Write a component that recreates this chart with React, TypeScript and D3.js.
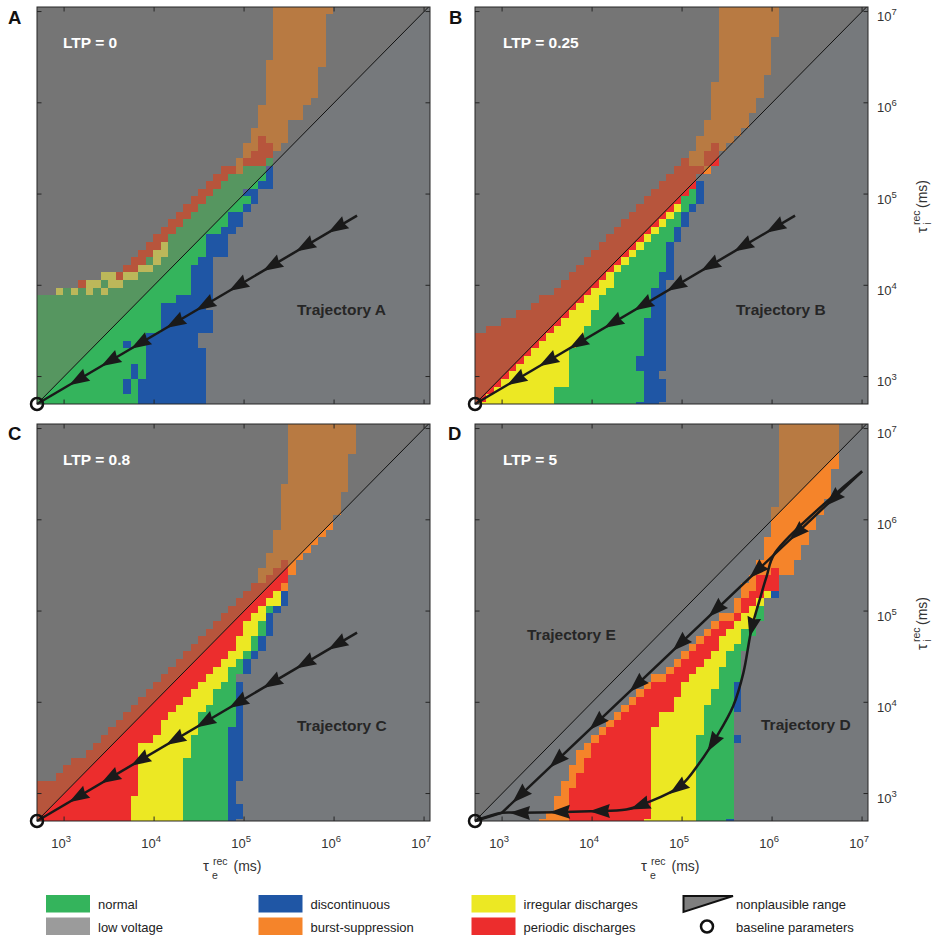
import React, { useEffect, useRef } from "react";
import * as d3 from "d3";

const WIDTH = 934;
const HEIGHT = 937;
const FONT = "'Liberation Sans', Arial, Helvetica, sans-serif";

// Parameter grid for the recovery time constants (ms): 12 samples per decade
const BASELINE_MS = 500;
const SAMPLES_PER_DECADE = 12;
const TAU_I_OFFSET = -0.2; // tau_i grid sits slightly below the tau_e grid (in steps)
const AXIS_MIN = 500;
const X_AXIS_MAX = 10 ** 7.066;
const Y_AXIS_MAX = 10 ** 7.05;
const TICK_EXPONENTS = [3, 4, 5, 6, 7];

// Dynamical regimes (plausible range)
const STATE_COLORS: Record<string, string> = {
  N: "#34b45c", // normal
  L: "#76797c", // low voltage
  D: "#1f56a5", // discontinuous
  B: "#f5842a", // burst-suppression
  Y: "#ece823", // irregular discharges
  P: "#ec2d2d", // periodic discharges
};
// Same regimes shaded inside the nonplausible range (tau_i > tau_e)
const SHADED_COLORS: Record<string, string> = {
  N: "#569660",
  L: "#757575",
  D: "#5a5f96",
  B: "#b87a42",
  Y: "#bcb75a",
  P: "#b7553c",
};
const LEGEND_LOW_VOLTAGE = "#9b9b9b";

const LEGEND_ITEMS = [
  { state: "N", label: "normal" },
  { state: "L", label: "low voltage" },
  { state: "D", label: "discontinuous" },
  { state: "B", label: "burst-suppression" },
  { state: "Y", label: "irregular discharges" },
  { state: "P", label: "periodic discharges" },
];

// Regime maps: one run-length string per tau_i row (bottom row first),
// runs along tau_e from the left; anything after the last run is low voltage.
const ROWS_LTP_0 = [
  "N14 D9", "N14 D9", "N12 D1 N1 D9", "N12 D1 N1 D9", "N13 D1 N1 D8",
  "N13 D1 N1 D8", "N15 D8", "N15 D8", "N12 D1 N2 D7", "N15 D7",
  "N17 D7", "N17 D7", "N17 D7", "N17 D6", "N19 D5",
  "L3 Y1 N1 Y1 N1 Y1 N1 Y1 N11 D3", "L6 P1 Y2 N1 Y2 N9 D3", "L9 Y2 P1 Y2 N7 D3",
  "L12 P2 Y2 N5 D3", "L13 P2 N1 Y1 N5 D2", "L14 P2 Y2 N5 D3",
  "L15 P2 Y1 N5 D3", "L16 P2 N5 D3", "L17 P2 N6 D2", "L18 P2 N6 D2",
  "L19 P2 N5 D2", "L20 P2 N6 D1", "L21 P2 N6 D1", "L22 P2 N4 D2",
  "L23 P2 N5 D2", "L24 P2 N5 D1", "L25 P2 B1 N3 D1", "L27 B1 P3 N1",
  "L28 B1 P3", "L28 B2 P2 B1", "L29 B1 P1 B3", "L29 B5", "L30 B4",
  "L30 B6", "L30 B6", "L31 B6", "L31 B7", "L31 B7", "L31 B7", "L31 B7",
  "L31 B8", "L32 B7", "L32 B7", "L32 B7", "L32 B7", "L32 B7", "L32 B7",
  "L32 B8",
];

const ROWS_LTP_025 = [
  "P1 Y10 N11 D3", "P2 Y9 N12 D3", "P3 Y8 N12 D3", "P4 Y9 N10 D3",
  "P5 Y8 N10 D2", "P6 Y7 N9 D4", "P7 Y6 N9 D4", "P8 Y5 N10 D3",
  "P9 Y5 N9 D3", "P10 Y5 N8 D3", "L2 P9 Y4 N8 D3", "L4 P8 Y4 N7 D3",
  "L6 P7 Y3 N8 D2", "L8 P6 Y3 N7 D2", "L9 P6 Y2 N7 D2", "L11 P5 Y2 N6 D2",
  "L12 P5 Y2 N6 D1", "L13 P5 Y1 N6 D2", "L14 P5 Y1 N6 D1", "L15 P5 Y1 N5 D1",
  "L16 P5 Y1 N4 D1", "L17 P5 Y1 N3 D1", "L18 P5 Y1 N3 D1", "L19 P5 Y1 N2 D1",
  "L20 P5 Y1 N2 D1", "L21 P5 Y1 N1 D1", "L22 P5 Y1 N1 D1", "L23 P5 N2 D1",
  "L24 P5 N1 D1", "L25 P5 D1", "L26 P4", "L27 P4 B1", "L28 P1 B2 P2",
  "L29 B2 P2", "L30 B2 P1 B1", "L30 B5", "L31 B5", "L31 B6", "L32 B5",
  "L32 B6", "L32 B6", "L32 B7", "L32 B7", "L33 B6", "L33 B7", "L33 B7",
  "L33 B7", "L33 B7", "L33 B7", "L33 B8", "L33 B8", "L33 B8", "L33 B8",
];

const ROWS_LTP_08 = [
  "P13 Y7 N6 D1", "P13 Y7 N6 D2", "P13 Y7 N6 D2", "P13 Y7 N6 D1",
  "P14 Y6 N6 D1", "P14 Y6 N6 D1", "L3 P11 Y6 N6 D2", "L4 P10 Y6 N6 D2",
  "L5 P9 Y6 N6 D2", "L7 P7 Y7 N5 D2", "L8 P6 Y7 N5 D2", "L9 P7 Y5 N5 D2",
  "L10 P7 Y5 N4 D2", "L11 P6 Y5 N5 D1", "L12 P6 Y4 N5 D1", "L13 P6 Y4 N4 D1",
  "L14 P6 Y4 N3 D1", "L15 P6 Y3 N3 D1", "L16 P6 Y3 N2 D1", "L17 P6 Y3 N1",
  "L18 P6 Y2 N2 D1", "L19 P6 Y2 N1 D1", "L20 P6 Y2 N1 D1", "L21 P6 Y2 N1 D1",
  "L22 P5 Y2 N1 D1", "L23 P5 Y2 N1 D1", "L24 P4 Y2 N1 D1", "L25 P4 Y2 D1",
  "L26 P4 Y1 N1 D1", "L27 P4 Y2 D1", "L28 P4 Y1 D1", "L29 P4 B1",
  "L30 B1 P3", "L30 B2 P2 B1", "L31 B2 P1 B1", "L31 B5", "L32 B5", "L32 B6",
  "L32 B7", "L33 B7", "L33 B7", "L33 B8", "L33 B8", "L33 B8", "L33 B9",
  "L34 B8", "L34 B8", "L34 B8", "L34 B8", "L34 B9", "L34 B9", "L34 B9", "L34 B9",
];

const ROWS_LTP_5 = [
  "L9 B4 P10 Y7 N4 D1", "L10 B3 P11 Y6 N5", "L11 B2 P11 Y6 N5", "L11 B2 P11 Y6 N5",
  "L12 B1 P11 Y6 N5", "L12 B2 P10 Y6 N5", "L13 B1 P10 Y6 N5", "L13 B2 P9 Y6 N5",
  "L14 B1 P9 Y6 N5", "L14 B2 P8 Y6 N5", "L15 B1 P8 Y6 N5", "L16 B1 P7 Y6 N5 D1",
  "L17 B1 P6 Y7 N4", "L18 B1 P6 Y6 N4", "L19 B1 P5 Y6 N4", "L20 B1 P6 Y4 N4 D1",
  "L21 B1 P5 Y5 N3 D1", "L22 B1 P5 Y4 N3 D1", "L23 B1 P4 Y5 N2 D1", "L24 B2 P3 Y4 N3",
  "L26 B1 P3 Y3 N3", "L27 B1 P3 Y3 N2", "L28 B1 P3 Y2 N2", "L29 B1 P3 Y2 N2",
  "L30 B1 P2 Y3 N1", "L31 B1 P2 Y2 N2", "L32 B1 P2 Y2 N1", "L33 B2 P1 Y2 N1",
  "L35 B1 P1 Y1 N1", "L35 B1 P2 Y1", "L36 B1 P2 Y1 D1", "L36 B2 P3", "L37 B1 P3",
  "L38 B2 P1 B2", "L38 B5", "L39 B5", "L39 B5", "L39 B6", "L40 B5", "L40 B6",
  "L40 B6", "L40 B7", "L41 B6", "L41 B7", "L41 B7", "L41 B7", "L41 B7",
  "L41 B8", "L41 B8", "L41 B8", "L41 B8", "L41 B8", "L41 B8",
];

// Trajectories in (tau_e, tau_i) ms, listed from their far end to the baseline
const TRAJ_STRAIGHT: [number, number][] = [[1.8e6, 5.8e4], [500, 500]];
const TRAJ_STRAIGHT_ARROWS = [1.08e6, 4.75e5, 2.04e5, 8.55e4, 3.68e4, 1.71e4, 6.97e3, 3.24e3, 1.43e3];

const TRAJ_D: [number, number][] = [
  [1e7, 3.4e6], [1.08e6, 4.35e5], [8.7e5, 2.4e5], [7.3e5, 1.34e5], [5.9e5, 6.3e4],
  [4.8e5, 2.1e4], [3.7e5, 9.1e3], [2.42e5, 4.2e3], [1.58e5, 2.2e3], [9.5e4, 1.2e3],
  [4.05e4, 790], [2.4e4, 668], [9.5e3, 640], [1.65e3, 614], [990, 614], [500, 500],
];
const TRAJ_D_ARROWS = [5.98e5, 2.2e5, 9.0e4, 3.4e4, 1.22e4, 4.4e3, 1.58e3];

const TRAJ_E: [number, number][] = [[1e7, 3.4e6], [990, 614], [500, 500]];
const TRAJ_E_ARROWS = [4.75e6, 1.89e6, 6.8e5, 2.38e5, 9.5e4, 3.15e4, 1.13e4, 4.07e3, 1.58e3];

const PANEL_W = 393;
const PANEL_H = 397;

type Trajectory = {
  points: [number, number][];
  arrows: number[];
  smooth: boolean;
  label?: string;
  labelDx?: number;
  labelDy?: number;
};

const PANELS: {
  letter: string; letterX: number; letterY: number; ltp: string; rows: string[];
  left: number; top: number; xLabels: boolean; yLabels: boolean; trajectories: Trajectory[];
}[] = [
  {
    letter: "A", letterX: 8, letterY: 23.5, ltp: "0", rows: ROWS_LTP_0, left: 37, top: 7,
    xLabels: false, yLabels: false,
    trajectories: [{ points: TRAJ_STRAIGHT, arrows: TRAJ_STRAIGHT_ARROWS, smooth: false, label: "Trajectory A", labelDx: 260, labelDy: 307.5 }],
  },
  {
    letter: "B", letterX: 449, letterY: 23.5, ltp: "0.25", rows: ROWS_LTP_025, left: 475, top: 7,
    xLabels: false, yLabels: true,
    trajectories: [{ points: TRAJ_STRAIGHT, arrows: TRAJ_STRAIGHT_ARROWS, smooth: false, label: "Trajectory B", labelDx: 261, labelDy: 307.5 }],
  },
  {
    letter: "C", letterX: 8, letterY: 440, ltp: "0.8", rows: ROWS_LTP_08, left: 37, top: 424,
    xLabels: true, yLabels: false,
    trajectories: [{ points: TRAJ_STRAIGHT, arrows: TRAJ_STRAIGHT_ARROWS, smooth: false, label: "Trajectory C", labelDx: 260, labelDy: 307 }],
  },
  {
    letter: "D", letterX: 448, letterY: 440, ltp: "5", rows: ROWS_LTP_5, left: 475, top: 424,
    xLabels: true, yLabels: true,
    trajectories: [
      { points: TRAJ_E, arrows: TRAJ_E_ARROWS, smooth: false, label: "Trajectory E", labelDx: 52, labelDy: 216 },
      { points: TRAJ_D, arrows: TRAJ_D_ARROWS, smooth: true, label: "Trajectory D", labelDx: 286, labelDy: 306 },
    ],
  },
];

const colEdge = (k: number) => BASELINE_MS * 10 ** ((k - 0.5) / SAMPLES_PER_DECADE);
const rowEdge = (j: number) => BASELINE_MS * 10 ** ((j - 0.5 + TAU_I_OFFSET) / SAMPLES_PER_DECADE);

function arrowPolygon(pathEl: SVGPathElement, targetX: number): string {
  const total = pathEl.getTotalLength();
  let lo = 0;
  let hi = total;
  for (let i = 0; i < 40; i++) {
    const mid = (lo + hi) / 2;
    const p = pathEl.getPointAtLength(mid);
    if (p.x > targetX) lo = mid;
    else hi = mid;
  }
  const l = (lo + hi) / 2;
  const p = pathEl.getPointAtLength(l);
  const a = pathEl.getPointAtLength(Math.max(0, l - 1.5));
  const b = pathEl.getPointAtLength(Math.min(total, l + 1.5));
  let ux = b.x - a.x;
  let uy = b.y - a.y;
  const len = Math.hypot(ux, uy) || 1;
  ux /= len;
  uy /= len;
  const nx = -uy;
  const ny = ux;
  const tip = [p.x + ux * 10.5, p.y + uy * 10.5];
  const back = [p.x - ux * 10, p.y - uy * 10];
  const notch = [p.x - ux * 8, p.y - uy * 8];
  const c1 = [back[0] + nx * 7, back[1] + ny * 7];
  const c2 = [back[0] - nx * 7, back[1] - ny * 7];
  return [tip, c1, notch, c2].map((q) => q.join(",")).join(" ");
}

function powerLabel(sel: d3.Selection<SVGTextElement, unknown, null, undefined>, exp: number) {
  sel.append("tspan").text("10");
  sel.append("tspan").attr("dy", -6).attr("font-size", 9.5).text(String(exp));
}

export default function App() {
  const ref = useRef<SVGSVGElement>(null);

  useEffect(() => {
    if (!ref.current) return;
    const svg = d3.select(ref.current);
    svg.selectAll("*").remove();
    const defs = svg.append("defs");

    PANELS.forEach((panel, pi) => {
      const right = panel.left + PANEL_W;
      const bottom = panel.top + PANEL_H;
      const x = d3.scaleLog().domain([AXIS_MIN, X_AXIS_MAX]).range([panel.left, right]);
      const y = d3.scaleLog().domain([AXIS_MIN, Y_AXIS_MAX]).range([bottom, panel.top]);
      const diagTop = Y_AXIS_MAX;
      const triangle = [
        [x(AXIS_MIN), y(AXIS_MIN)],
        [x(diagTop), y(diagTop)],
        [x(AXIS_MIN), y(diagTop)],
      ].map((p) => p.join(",")).join(" ");

      const clipId = `plot-clip-${pi}`;
      defs.append("clipPath").attr("id", clipId).append("rect")
        .attr("x", panel.left).attr("y", panel.top).attr("width", PANEL_W).attr("height", PANEL_H);
      const shadeId = `shade-clip-${pi}`;
      defs.append("clipPath").attr("id", shadeId).append("polygon").attr("points", triangle);

      const g = svg.append("g");
      const plot = g.append("g").attr("clip-path", `url(#${clipId})`);

      const drawCells = (layer: d3.Selection<SVGGElement, unknown, null, undefined>, palette: Record<string, string>) => {
        const cells = layer.append("g").attr("shape-rendering", "crispEdges");
        panel.rows.forEach((row, j) => {
          let k = 0;
          const yTop = y(rowEdge(j + 1));
          const yBot = y(rowEdge(j));
          for (const m of row.matchAll(/([A-Z])(\d+)/g)) {
            const state = m[1];
            const n = +m[2];
            if (state !== "L") {
              const x0 = x(colEdge(k));
              const x1 = x(colEdge(k + n));
              cells.append("rect")
                .attr("x", x0).attr("y", yTop)
                .attr("width", x1 - x0).attr("height", yBot - yTop)
                .attr("fill", palette[state]);
            }
            k += n;
          }
        });
      };

      // plausible range
      plot.append("rect")
        .attr("x", panel.left).attr("y", panel.top).attr("width", PANEL_W).attr("height", PANEL_H)
        .attr("fill", STATE_COLORS.L);
      drawCells(plot, STATE_COLORS);

      // nonplausible range (tau_i > tau_e), shaded
      const shaded = plot.append("g").attr("clip-path", `url(#${shadeId})`);
      shaded.append("polygon").attr("points", triangle).attr("fill", SHADED_COLORS.L);
      drawCells(shaded, SHADED_COLORS);

      plot.append("line")
        .attr("x1", x(AXIS_MIN)).attr("y1", y(AXIS_MIN))
        .attr("x2", x(diagTop)).attr("y2", y(diagTop))
        .attr("stroke", "#111").attr("stroke-width", 1);

      // frame and ticks
      g.append("rect")
        .attr("x", panel.left).attr("y", panel.top).attr("width", PANEL_W).attr("height", PANEL_H)
        .attr("fill", "none").attr("stroke", "#262626").attr("stroke-width", 1);
      const ticks = g.append("g").attr("stroke", "#262626").attr("stroke-width", 1);
      TICK_EXPONENTS.forEach((e) => {
        const xv = x(10 ** e);
        const yv = y(10 ** e);
        ticks.append("line").attr("x1", xv).attr("x2", xv).attr("y1", bottom).attr("y2", bottom - 4.5);
        ticks.append("line").attr("x1", xv).attr("x2", xv).attr("y1", panel.top).attr("y2", panel.top + 4.5);
        ticks.append("line").attr("y1", yv).attr("y2", yv).attr("x1", panel.left).attr("x2", panel.left + 4.5);
        ticks.append("line").attr("y1", yv).attr("y2", yv).attr("x1", right).attr("x2", right - 4.5);
        if (panel.xLabels) {
          const t = g.append("text")
            .attr("x", xv - 3).attr("y", bottom + 27)
            .attr("text-anchor", "middle")
            .attr("font-family", FONT).attr("font-size", 13).attr("fill", "#333");
          powerLabel(t, e);
        }
        if (panel.yLabels) {
          const t = g.append("text")
            .attr("x", right + 9).attr("y", yv + 9.5)
            .attr("font-family", FONT).attr("font-size", 13).attr("fill", "#333");
          powerLabel(t, e);
        }
      });

      // trajectories with direction arrows
      panel.trajectories.forEach((tr) => {
        const line = d3.line<[number, number]>()
          .x((d) => x(d[0]))
          .y((d) => y(d[1]))
          .curve(tr.smooth ? d3.curveCatmullRom.alpha(0.5) : d3.curveLinear);
        const path = g.append("path")
          .attr("d", line(tr.points))
          .attr("fill", "none").attr("stroke", "#1a1a1a")
          .attr("stroke-width", 2.5).attr("stroke-linejoin", "round");
        const el = path.node() as SVGPathElement;
        tr.arrows.forEach((tau) => {
          g.append("polygon").attr("points", arrowPolygon(el, x(tau))).attr("fill", "#1a1a1a");
        });
        if (tr.label) {
          g.append("text")
            .attr("x", panel.left + (tr.labelDx ?? 0)).attr("y", panel.top + (tr.labelDy ?? 0))
            .attr("font-family", FONT).attr("font-weight", "bold").attr("font-size", 15.5)
            .attr("fill", "#262626").text(tr.label);
        }
      });

      // baseline parameters
      g.append("circle")
        .attr("cx", x(BASELINE_MS)).attr("cy", y(BASELINE_MS)).attr("r", 6)
        .attr("fill", "none").attr("stroke", "#111").attr("stroke-width", 2.5);

      g.append("text")
        .attr("x", panel.left + (pi % 2 === 0 ? 26 : 28)).attr("y", panel.top + 40.5)
        .attr("font-family", FONT).attr("font-weight", "bold").attr("font-size", 15.5)
        .attr("fill", "#ffffff").text(`LTP = ${panel.ltp}`);

      g.append("text")
        .attr("x", panel.letterX).attr("y", panel.letterY)
        .attr("font-family", FONT).attr("font-weight", "bold").attr("font-size", 18.5)
        .attr("fill", "#111").text(panel.letter);

      // axis titles
      if (panel.xLabels) {
        const cx = panel.left + PANEL_W / 2;
        const t = g.append("g").attr("font-family", FONT).attr("fill", "#333");
        t.append("text").attr("x", cx - 30.5).attr("y", 871).attr("font-size", 15).text("τ");
        t.append("text").attr("x", cx - 21.5).attr("y", 878.5).attr("font-size", 10.5).text("e");
        t.append("text").attr("x", cx - 20.5).attr("y", 865).attr("font-size", 10.5).text("rec");
        t.append("text").attr("x", cx).attr("y", 871).attr("font-size", 14).text("(ms)");
      }
      if (panel.yLabels) {
        const cy = panel.top + PANEL_H / 2;
        const t = g.append("g").attr("font-family", FONT).attr("fill", "#333")
          .attr("transform", `translate(927,${cy}) rotate(-90)`);
        t.append("text").attr("x", -27.5).attr("y", 0).attr("font-size", 15).text("τ");
        t.append("text").attr("x", -19).attr("y", 4).attr("font-size", 10.5).text("i");
        t.append("text").attr("x", -19.5).attr("y", -7).attr("font-size", 10.5).text("rec");
        t.append("text").attr("x", -2.5).attr("y", 0).attr("font-size", 14).text("(ms)");
      }
    });

    // legend
    const legend = svg.append("g").attr("font-family", FONT).attr("font-size", 13).attr("fill", "#222");
    const colX = [46, 258.5, 471.5];
    const rowY = [895, 917.5];
    LEGEND_ITEMS.forEach((item, i) => {
      const cx = colX[Math.floor(i / 2)];
      const ry = rowY[i % 2];
      legend.append("rect")
        .attr("x", cx).attr("y", ry).attr("width", 44).attr("height", 17.5)
        .attr("fill", item.state === "L" ? LEGEND_LOW_VOLTAGE : STATE_COLORS[item.state]);
      legend.append("text").attr("x", cx + 52).attr("y", ry + 14).text(item.label);
    });
    legend.append("polygon")
      .attr("points", "683.5,896 733,896 683.5,912")
      .attr("fill", "#7f7f7f").attr("stroke", "#111").attr("stroke-width", 2)
      .attr("stroke-linejoin", "miter");
    legend.append("text").attr("x", 736).attr("y", 909).text("nonplausible range");
    legend.append("circle").attr("cx", 707).attr("cy", 926.5).attr("r", 6)
      .attr("fill", "none").attr("stroke", "#111").attr("stroke-width", 2.5);
    legend.append("text").attr("x", 736).attr("y", 931.5).text("baseline parameters");
  }, []);

  return (
    <svg
      ref={ref}
      width={WIDTH}
      height={HEIGHT}
      style={{ position: "absolute", left: 0, top: 0, background: "#ffffff" }}
    />
  );
}
